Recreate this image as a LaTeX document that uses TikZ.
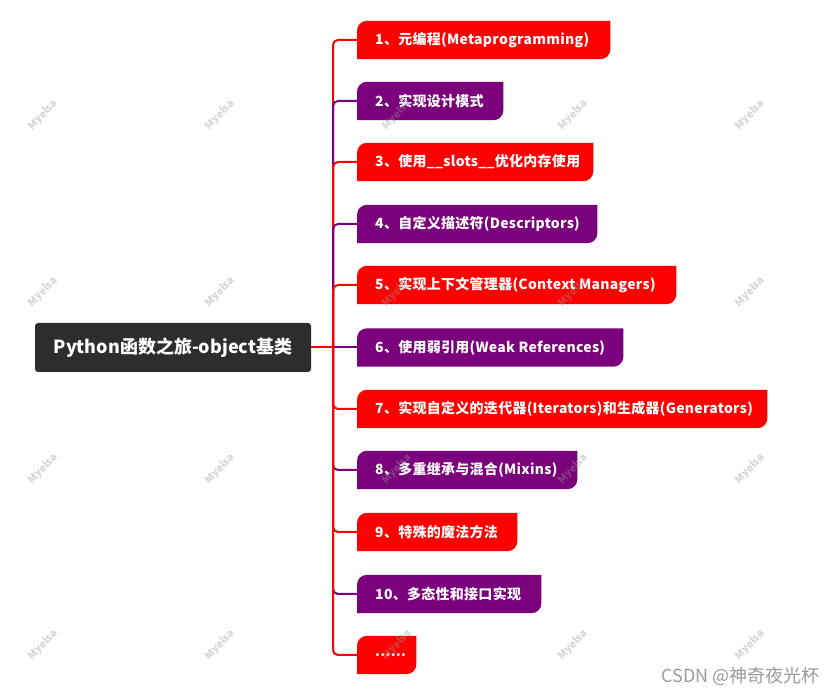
\documentclass[tikz,border=0pt]{standalone}
\usepackage{fontspec}
\setmainfont{Noto Sans CJK SC}
\newfontfamily\brfont[LetterSpace=2]{Noto Sans CJK SC}
\usetikzlibrary{backgrounds}
\definecolor{bred}{HTML}{FF0000}
\definecolor{bpur}{HTML}{7B007B}
\definecolor{rootc}{HTML}{2D2D2D}
\definecolor{wmc}{HTML}{999999}
\definecolor{csdnc}{HTML}{9A9A9A}
\begin{document}
\begin{tikzpicture}[x=1pt,y=1pt,
  br/.style={anchor=west, minimum height=38pt, inner xsep=18pt, inner ysep=0pt,
    text width=#1pt, align=flush left, text=white,
    font=\brfont\fontsize{14}{16}\selectfont\bfseries},
  rootbox/.style={fill=rootc, rounded corners=3pt, minimum width=276pt,
    minimum height=49pt, inner sep=0pt, text=white,
    font=\fontsize{18}{20}\selectfont\bfseries},
  conn/.style={line width=2pt, rounded corners=5pt},
  wmark/.style={rotate=45, text=wmc, opacity=0.4,
    font=\fontsize{10.5}{12}\selectfont\bfseries, inner sep=0pt},
  csdn/.style={text=csdnc, font=\fontsize{18}{20}\selectfont, inner sep=0pt, anchor=east}
]
\useasboundingbox (0,0) rectangle (835,695);

% root
\node[rootbox] (root) at (173,347.5) {Python函数之旅-object基类};

% branch nodes
\node[br=217] (n1)  at (357,655) {1、元编程(Metaprogramming)};
\node[br=110] (n2)  at (357,594) {2、实现设计模式};
\node[br=200] (n3)  at (357,533) {3、使用\_\_slots\_\_优化内存使用};
\node[br=204] (n4)  at (357,471) {4、自定义描述符(Descriptors)};
\node[br=283] (n5)  at (357,410) {5、实现上下文管理器(Context Managers)};
\node[br=230] (n6)  at (357,347.5) {6、使用弱引用(Weak References)};
\node[br=374] (n7)  at (357,286) {7、实现自定义的迭代器(Iterators)和生成器(Generators)};
\node[br=184] (n8)  at (357,225) {8、多重继承与混合(Mixins)};
\node[br=124] (n9)  at (357,163) {9、特殊的魔法方法};
\node[br=148] (n10) at (357,101) {10、多态性和接口实现};
\node[br=23]  (n11) at (357,40)  {......};

\begin{scope}[on background layer]
  \fill[white] (0,0) rectangle (835,695);
  \foreach \n/\c in {n1/bred,n2/bpur,n3/bred,n4/bpur,n5/bred,n6/bpur,
                     n7/bred,n8/bpur,n9/bred,n10/bpur,n11/bred}
    \fill[\c] (\n.south west) -- ([yshift=-10pt]\n.north west)
      arc[start angle=180,end angle=90,radius=10pt] -- (\n.north east)
      -- ([yshift=10pt]\n.south east)
      arc[start angle=0,end angle=-90,radius=10pt] -- cycle;

  % connectors
  \coordinate (hub) at (333,347.5);
  \draw[line width=2pt, bred] (root.east) -- (hub);
  \draw[conn, bred] (hub) |- (n1.west);
  \draw[conn, bpur] (hub) |- (n2.west);
  \draw[conn, bred] (hub) |- (n3.west);
  \draw[conn, bpur] (hub) |- (n4.west);
  \draw[conn, bred] (hub) |- (n5.west);
  \draw[conn, bpur] (hub) -- (n6.west);
  \draw[conn, bpur] (hub) |- (n8.west);
  \draw[conn, bpur] (hub) |- (n10.west);
  \draw[conn, bred] (hub) |- (n7.west);
  \draw[conn, bred] (hub) |- (n9.west);
  \draw[conn, bred] (hub) |- (n11.west);
\end{scope}

% watermarks
\foreach \wx in {43,220,397,573,750}
  \foreach \wy in {580,403,226,50}
    \node[wmark] at (\wx,\wy) {Myelsa};

\node[csdn] (csdn) at (820,19) {CSDN @神奇夜光杯};
\end{tikzpicture}
\end{document}
